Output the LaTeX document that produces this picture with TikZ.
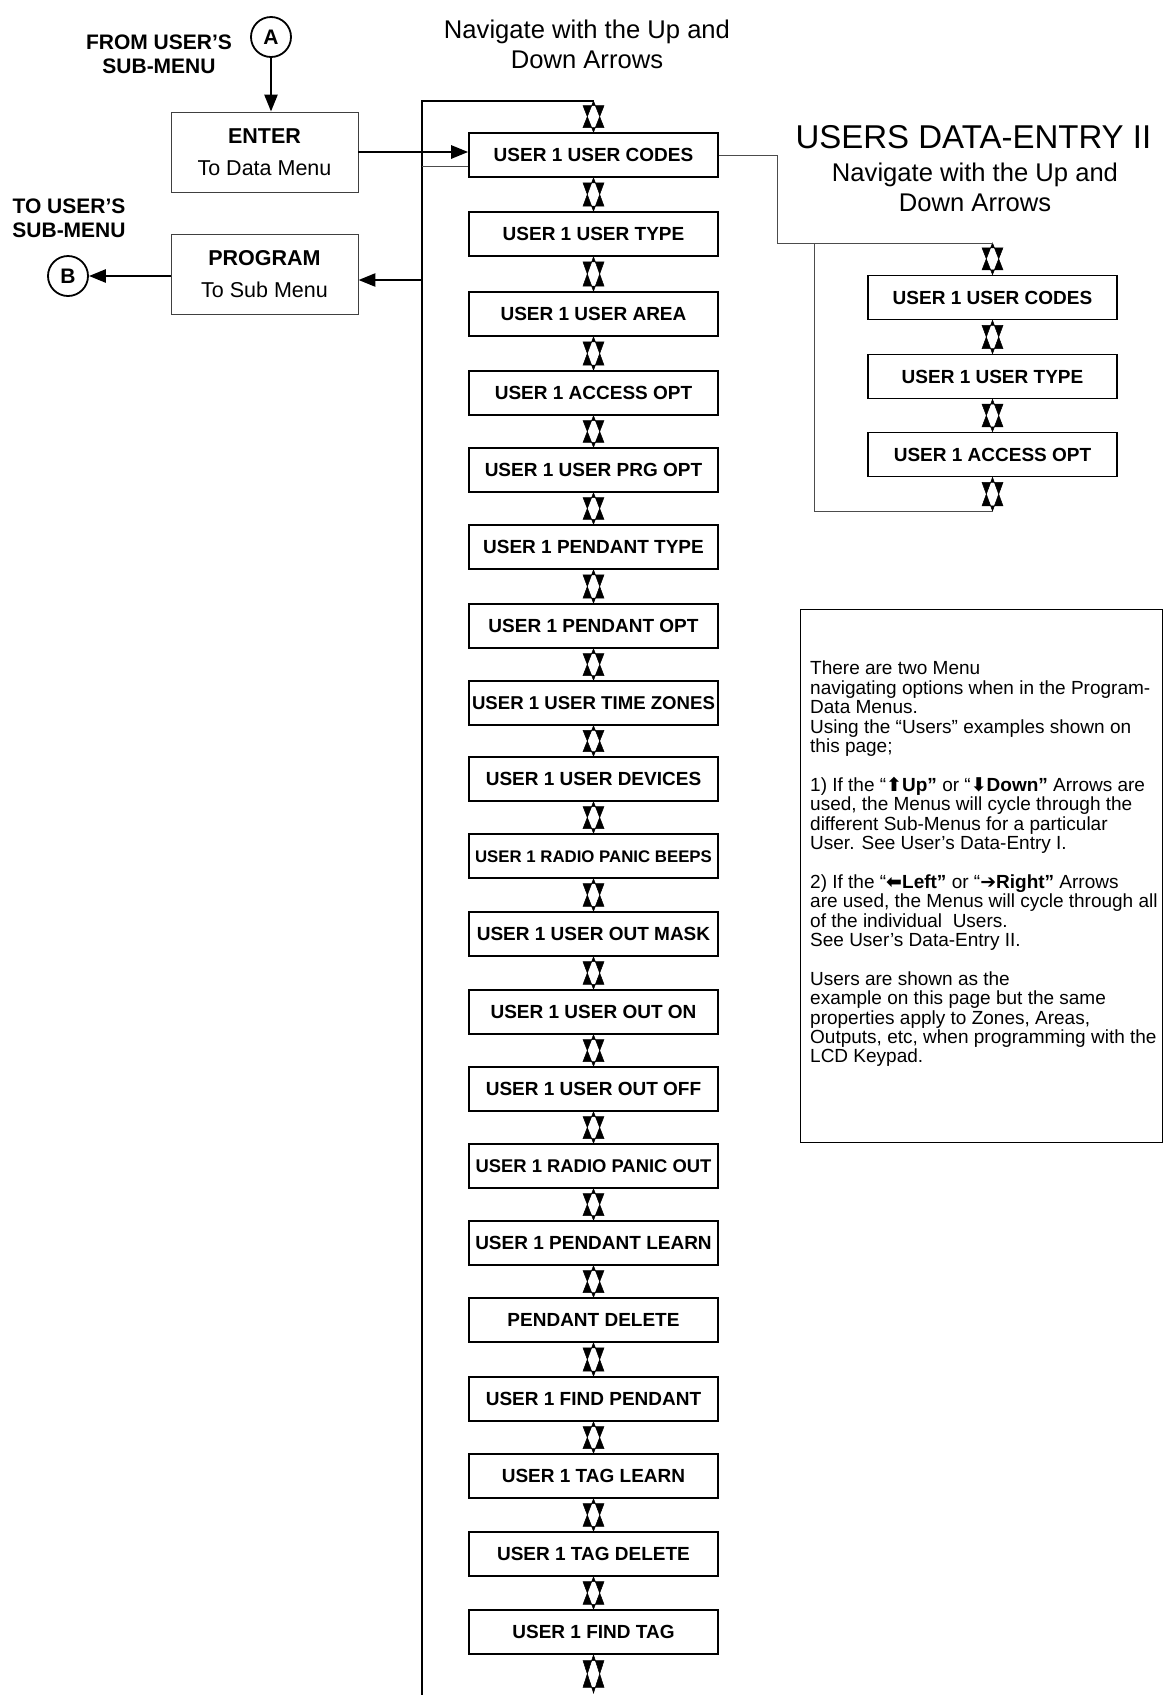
\documentclass[tikz,border=0pt]{standalone}
\usepackage{fontspec}
\setmainfont{Liberation Sans}
\newfontfamily\dejavu{DejaVu Sans}
\usetikzlibrary{arrows.meta,calc}
\begin{document}
\begin{tikzpicture}[x=1pt,y=-1pt,
  menubox/.style={draw=black,line width=1.6pt,minimum width=249pt,minimum height=44pt,inner sep=0pt,text height=13.5pt,text depth=0pt,font=\fontsize{19}{20}\selectfont\bfseries},
  keybox/.style={draw=black!75,line width=0.9pt,minimum width=187pt,minimum height=80pt,inner sep=0pt,align=center,font=\fontsize{21.5}{32}\selectfont},
  circ/.style={circle,draw=black,line width=1.8pt,minimum size=40pt,inner sep=0pt,font=\fontsize{21}{24}\selectfont\bfseries},
  dbl/.style={fill=black,even odd rule,draw=black,line width=0.5pt,to path={let \p1=(\tikztostart),\p2=(\tikztotarget),\n1={0.85*(\y2-\y1)} in (\x1,\y1) -- ++(10.5pt,\n1) -- ++(-21pt,0pt) -- cycle (\x2,\y2) -- ++(10.5pt,-\n1) -- ++(-21pt,0pt) -- cycle}},
  bigarrow/.style={line width=2.6pt,-{Triangle[length=17pt,width=13pt]}},
  thinline/.style={draw=black!70,line width=1pt},
  sidelabel/.style={font=\fontsize{21}{24}\selectfont\bfseries,align=center},
  navlabel/.style={font=\fontsize{25.6}{30}\selectfont,align=center},
]
\useasboundingbox (0,0) rectangle (1163,1695);

% left side
\node[circ] (A) at (271,37) {A};
\node[sidelabel] (from) at (159,54) {FROM USER’S\\SUB-MENU};
\node[keybox] (enter) at (264.5,152) {\textbf{ENTER}\\To Data Menu};
\node[sidelabel] (to) at (69,218) {TO USER’S\\SUB-MENU};
\node[circ] (B) at (68,276) {B};
\node[keybox] (prog) at (264.5,274.5) {\textbf{PROGRAM}\\To Sub Menu};

\node[navlabel] (nav1) at (587,44) {Navigate with the Up and\\Down Arrows};

% main column
\node[menubox] (b0) at (593.5,155) {USER 1 USER CODES};
\node[menubox] (b1) at (593.5,234) {USER 1 USER TYPE};
\node[menubox] (b2) at (593.5,314) {USER 1 USER AREA};
\node[menubox] (b3) at (593.5,393) {USER 1 ACCESS OPT};
\node[menubox] (b4) at (593.5,470) {USER 1 USER PRG OPT};
\node[menubox] (b5) at (593.5,547) {USER 1 PENDANT TYPE};
\node[menubox] (b6) at (593.5,626) {USER 1 PENDANT OPT};
\node[menubox,font=\fontsize{18.6}{20}\selectfont\bfseries] (b7) at (593.5,703) {USER 1 USER TIME ZONES};
\node[menubox] (b8) at (593.5,779) {USER 1 USER DEVICES};
\node[menubox,font=\fontsize{16.8}{18}\selectfont\bfseries] (b9) at (593.5,856) {USER 1 RADIO PANIC BEEPS};
\node[menubox] (b10) at (593.5,934) {USER 1 USER OUT MASK};
\node[menubox] (b11) at (593.5,1012) {USER 1 USER OUT ON};
\node[menubox] (b12) at (593.5,1089) {USER 1 USER OUT OFF};
\node[menubox,font=\fontsize{18.4}{20}\selectfont\bfseries] (b13) at (593.5,1166) {USER 1 RADIO PANIC OUT};
\node[menubox] (b14) at (593.5,1243) {USER 1 PENDANT LEARN};
\node[menubox] (b15) at (593.5,1320) {PENDANT DELETE};
\node[menubox] (b16) at (593.5,1399) {USER 1 FIND PENDANT};
\node[menubox] (b17) at (593.5,1476) {USER 1 TAG LEARN};
\node[menubox] (b18) at (593.5,1554) {USER 1 TAG DELETE};
\node[menubox] (b19) at (593.5,1632) {USER 1 FIND TAG};

\coordinate (topc) at (593.5,101);
\coordinate (botc) at (593.5,1693);
\coordinate (vtop) at (422,101);
\coordinate (vbot) at (422,1695);
\coordinate (tl) at (422,166);
\coordinate (pin) at (422,280);

\path[dbl] (topc) to (b0.north);
\foreach \i [evaluate=\i as \j using int(\i+1)] in {0,...,18} {
  \path[dbl] (b\i.south) to (b\j.north);
}
\path[dbl] (b19.south) to (botc);

\draw[line width=1.6pt] (vbot) -- (vtop) -- (topc);
\draw[thinline] (tl) -- (tl -| b0.west);

% arrows on the left
\draw[bigarrow] (A.south) -- (A.south |- enter.north);
\draw[bigarrow] (enter.east) -- (enter.east -| b0.west);
\draw[bigarrow] (pin) -- (pin -| prog.east);
\draw[bigarrow] (prog.west |- B) -- (B.east);

% right column
\node[anchor=west,font=\fontsize{33}{36}\selectfont] (title2) at (792,137) {USERS DATA-ENTRY II};
\node[navlabel] (nav2) at (975,187) {Navigate with the Up and\\Down Arrows};

\node[menubox] (r0) at (992.5,297.5) {USER 1 USER CODES};
\node[menubox] (r1) at (992.5,376.5) {USER 1 USER TYPE};
\node[menubox] (r2) at (992.5,454.5) {USER 1 ACCESS OPT};

\coordinate (rtopc) at (992.5,243);
\coordinate (rbotc) at (992.5,511);
\coordinate (lp) at (814,243);

\path[dbl] (rtopc) to (r0.north);
\path[dbl] (r0.south) to (r1.north);
\path[dbl] (r1.south) to (r2.north);
\path[dbl] (r2.south) to (rbotc);

\draw[thinline] (b0.east) -- ++(59,0) |- (rtopc);
\draw[thinline] (lp) |- (rbotc);

% text box
\node[draw=black,line width=1.4pt,minimum width=362pt,minimum height=533pt,anchor=north west,inner sep=0pt] (tb) at (800,609) {};
\node[anchor=north west,inner sep=0pt,align=left,font=\fontsize{19}{19.4}\selectfont] (tbtext) at (810,661) {%
There are two Menu\\
navigating options when in the Program-\\
Data Menus.\\
Using the “Users” examples shown on\\
this page;\\[19.4pt]
1) If the “\textbf{{\dejavu ⬆}Up”} or “\textbf{{\dejavu ⬇}Down”} Arrows are\\
used, the Menus will cycle through the\\
different Sub-Menus for a particular\\
User. See User’s Data-Entry I.\\[19.4pt]
2) If the “\textbf{{\dejavu ⬅}Left”} or “\textbf{{\dejavu ➔}Right”} Arrows\\
are used, the Menus will cycle through all\\
of the individual\ \ Users.\\
See User’s Data-Entry II.\\[19.4pt]
Users are shown as the\\
example on this page but the same\\
properties apply to Zones, Areas,\\
Outputs, etc, when programming with the\\
LCD Keypad.};
\end{tikzpicture}
\end{document}
